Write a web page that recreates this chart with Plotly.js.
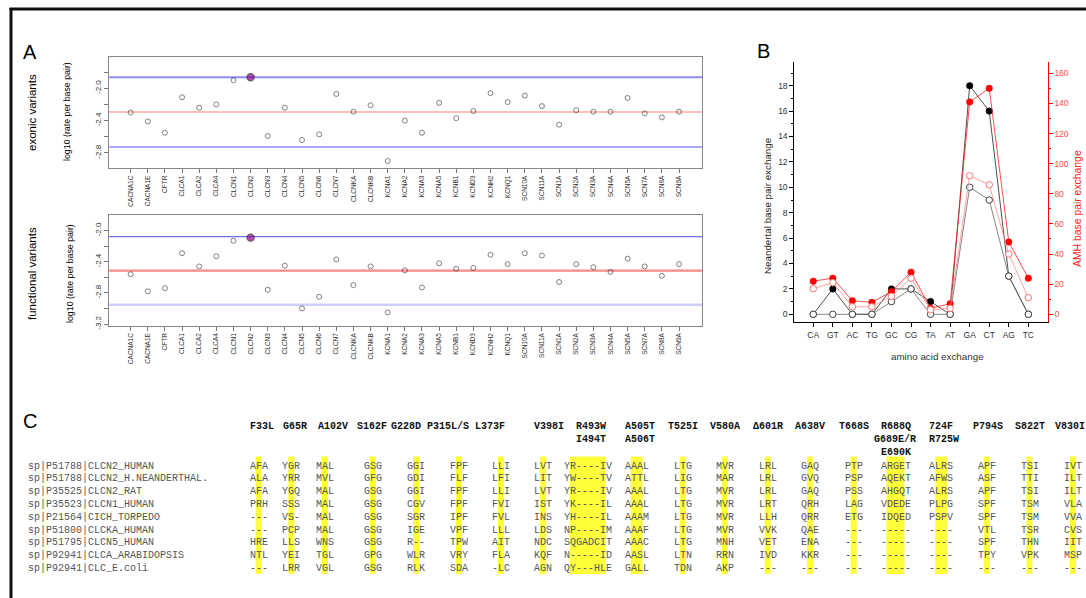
<!DOCTYPE html>
<html><head><meta charset="utf-8">
<script src="https://cdn.plot.ly/plotly-3.0.1.min.js"></script>
<style>html,body{margin:0;padding:0;background:#fff}#chart{width:1086px;height:598px}</style>
</head><body><div id="chart"></div>
<script>
// ---------------- Panel A data ----------------
const genes = ['CACNA1C','CACNA1E','CFTR','CLCA1','CLCA2','CLCA4','CLCN1','CLCN2','CLCN3','CLCN4','CLCN5','CLCN6','CLCN7','CLCNKA','CLCNKB','KCNA1','KCNA2','KCNA3','KCNA5','KCNB1','KCND3','KCNH2','KCNQ1','SCN10A','SCN11A','SCN1A','SCN2A','SCN3A','SCN4A','SCN5A','SCN7A','SCN8A','SCN9A'];
const exonicRate = [-2.30,-2.41,-2.55,-2.11,-2.24,-2.20,-1.90,-1.864,-2.59,-2.24,-2.64,-2.57,-2.07,-2.29,-2.21,-2.90,-2.40,-2.55,-2.18,-2.37,-2.28,-2.06,-2.17,-2.09,-2.22,-2.45,-2.27,-2.29,-2.29,-2.12,-2.31,-2.36,-2.29];
const functionalRate = [-2.56,-2.78,-2.74,-2.29,-2.46,-2.33,-2.13,-2.09,-2.76,-2.45,-3.00,-2.85,-2.37,-2.70,-2.46,-3.05,-2.51,-2.73,-2.42,-2.49,-2.48,-2.31,-2.43,-2.29,-2.32,-2.66,-2.43,-2.47,-2.53,-2.36,-2.46,-2.58,-2.43];
const highlightGene = 'CLCN2';
const exonicRefLines = [-1.864, -2.293, -2.726];
const functionalRefLines = [-2.077, -2.514, -2.952];
const exonicTicks = [-1.8,-2.0,-2.2,-2.4,-2.6,-2.8];
const exonicTickText = ['','-2.0','','-2.4','','-2.8'];
const functionalTicks = [-2.0,-2.2,-2.4,-2.6,-2.8,-3.0,-3.2];
const functionalTickText = ['-2.0','','-2.4','','-2.8','','-3.2'];

// ---------------- Panel B data ----------------
const exchanges = ['CA','GT','AC','TG','GC','CG','TA','AT','GA','CT','AG','TC'];
const neandertalFilled = [0,2,0,0,2,2,1,0,18,16,3,0];
const neandertalOpen   = [0,0,0,0,1,2,0,0,10,9,3,0];
const amhFilled = [22,24,9,8,15,28,4,7,141,150,48,24];
const amhOpen   = [17,21,5,5,12,24,3,4,92,86,40,11];

// ---------------- Panel C data ----------------
const mutationHeaders = [['F33L'],['G65R'],['A102V'],['S162F'],['G228D'],['P315L/S'],['L373F'],['V398I'],['R493W','I494T'],['A505T','A506T'],['T525I'],['V580A'],['\u0394601R'],['A638V'],['T668S'],['R688Q','G689E/R','E690K'],['724F','R725W'],['P794S'],['S822T'],['V830I']];
const seqNames = ['sp|P51788|CLCN2_HUMAN','sp|P51788|CLCN2_H.NEANDERTHAL.','sp|P35525|CLCN2_RAT','sp|P35523|CLCN1_HUMAN','sp|P21564|CICH_TORPEDO','sp|P51800|CLCKA_HUMAN','sp|P51795|CLCN5_HUMAN','sp|P92941|CLCA_ARABIDOPSIS','sp|P92941|CLC_E.coli'];
const alignment = [
 ['AFA','YGR','MAL','GSG','GGI','FPF','LLI','LVT','YR----IV','AAAL','LTG','MVR','LRL','GAQ','PTP','ARGET','ALRS','APF','TSI','IVT'],
 ['ALA','YRR','MVL','GFG','GDI','FLF','LFI','LIT','YW----TV','ATTL','LIG','MAR','LRL','GVQ','PSP','AQEKT','AFWS','ASF','TTI','ILT'],
 ['AFA','YGQ','MAL','GSG','GGI','FPF','LLI','LVT','YR----IV','AAAL','LTG','MVR','LRL','GAQ','PSS','AHGQT','ALRS','APF','TSI','ILT'],
 ['PRH','SSS','MAL','GSG','CGV','FPF','FVI','IST','YK----IL','AAAL','LTG','MVR','LRT','QRH','LAG','VDEDE','PLPG','SPF','TSM','VLA'],
 ['---','VS-','MAL','GSG','SGR','IPF','FVL','INS','YH----IL','AAAM','LTG','MVR','LLH','QRR','ETG','IDQED','PSPV','SPF','TSM','VVA'],
 ['---','PCP','MAL','GSG','IGE','VPF','LLL','LDS','NP----IM','AAAF','LTG','MVR','VVK','QAE','---','-----','----','VTL','TSR','CVS'],
 ['HRE','LLS','WNS','GSG','R--','TPW','AIT','NDC','SQGADCIT','AAAC','LTG','MNH','VET','ENA','---','-----','----','SPF','THN','IIT'],
 ['NTL','YEI','TGL','GPG','WLR','VRY','FLA','KQF','N-----ID','AASL','LTN','RRN','IVD','KKR','---','-----','----','TPY','VPK','MSP'],
 ['---','LRR','VGL','GSG','RLK','SDA','-LC','AGN','QY---HLE','GALL','TDN','AKP','---','---','---','-----','----','---','---','---']
];
const highlightSpans = [[1,1],[1,1],[1,1],[1,1],[1,1],[1,1],[1,1],[1,1],[1,6],[1,2],[1,1],[1,1],[1,1],[1,1],[1,1],[1,3],[1,2],[1,1],[1,1],[1,1]];

// ---------------- layout constants (pixels) ----------------
const W = 1086, H = 598;
const PX = v => v / W, PY = v => 1 - v / H;
const colX = [249.7,282.3,316,364,407,450,492,534.2,563.7,624.6,673.7,715.8,758.7,801.1,844.7,880.5,929.3,977.7,1020.5,1064];
const headX = [250.4,283.4,317.8,357.2,391,427,475.2,534,575.9,624.6,667.8,709.6,752.7,795.2,838.7,[880.5,874.3,880.5],929.3,972.8,1015.3,1055.3];
const headY = [426, 439, 452];
const nameX = 28, rowY0 = 466, rowGap = 12.8, charW = 6.0, textPad = 2;
const mono = 'Liberation Mono, Courier New, monospace';
const sans = 'Liberation Sans, Arial, sans-serif';

const traces = [];
// Panel A
const mcol = genes.map(g => g === highlightGene ? '#990099' : 'rgba(0,0,0,0)');
const msize = genes.map(g => g === highlightGene ? 7 : 5);
const mlw = genes.map(g => g === highlightGene ? 1.4 : 0.8);
traces.push({type:'scatter', mode:'markers', x:genes, y:exonicRate, xaxis:'x', yaxis:'y',
  marker:{symbol:'circle', size:msize, color:mcol, line:{color:'#222', width:mlw}}, showlegend:false, hoverinfo:'skip'});
traces.push({type:'scatter', mode:'markers', x:genes, y:functionalRate, xaxis:'x2', yaxis:'y2',
  marker:{symbol:'circle', size:msize, color:mcol, line:{color:'#222', width:mlw}}, showlegend:false, hoverinfo:'skip'});
// Panel B
traces.push({type:'scatter', mode:'lines+markers', x:exchanges, y:amhFilled, xaxis:'x3', yaxis:'y4',
  line:{color:'#ff2020', width:0.8}, marker:{size:6.5, color:'#ff0000', line:{color:'#ff0000', width:0.5}}, showlegend:false, hoverinfo:'skip'});
traces.push({type:'scatter', mode:'lines+markers', x:exchanges, y:amhOpen, xaxis:'x3', yaxis:'y4',
  line:{color:'#ff8a8a', width:0.8}, marker:{size:6.5, color:'#ffffff', line:{color:'#ff7070', width:1}}, showlegend:false, hoverinfo:'skip'});
traces.push({type:'scatter', mode:'lines+markers', x:exchanges, y:neandertalFilled, xaxis:'x3', yaxis:'y3',
  line:{color:'#222', width:0.8}, marker:{size:6.5, color:'#000', line:{color:'#000', width:0.5}}, showlegend:false, hoverinfo:'skip'});
traces.push({type:'scatter', mode:'lines+markers', x:exchanges, y:neandertalOpen, xaxis:'x3', yaxis:'y3',
  line:{color:'#666', width:0.8}, marker:{size:6.5, color:'#ffffff', line:{color:'#444', width:1}}, showlegend:false, hoverinfo:'skip'});
// Panel C anchor trace
traces.push({type:'scatter', mode:'markers', x:[], y:[], xaxis:'x5', yaxis:'y5', showlegend:false, hoverinfo:'skip'});

const shapes = [];
// frame
shapes.push({type:'line', xref:'paper', yref:'paper', x0:PX(9.5), x1:1, y0:PY(9), y1:PY(9), line:{color:'#111', width:3}});
shapes.push({type:'line', xref:'paper', yref:'paper', x0:PX(11), x1:PX(11), y0:PY(8), y1:0, line:{color:'#111', width:3}});
// reference lines
const exStyle = [{color:'#8c8cf5', width:2},{color:'#ffa8a8', width:1.5},{color:'#a8a8f8', width:2}];
const fnStyle = [{color:'#6f6fee', width:1.2},{color:'#ff8a8a', width:2.2},{color:'#cfcfff', width:2.5}];
exonicRefLines.forEach((v,i) => shapes.push({type:'line', xref:'x domain', yref:'y', x0:0, x1:1, y0:v, y1:v, line:exStyle[i], layer:'below'}));
functionalRefLines.forEach((v,i) => shapes.push({type:'line', xref:'x2 domain', yref:'y2', x0:0, x1:1, y0:v, y1:v, line:fnStyle[i], layer:'below'}));
// alignment highlights
const rowY = r => rowY0 + r * rowGap;
highlightSpans.forEach((s,c) => shapes.push({type:'rect', xref:'x5', yref:'y5',
  x0: colX[c] + s[0]*charW, x1: colX[c] + (s[1]+1)*charW,
  y0: rowY(0) - 9.5, y1: rowY(alignment.length-1) + 5.5,
  fillcolor:'#ffff3a', line:{width:0}, layer:'below'}));

const ann = [];
const lab = (t, x, y, size, opts) => Object.assign({text:t, xref:'paper', yref:'paper', x:PX(x), y:PY(y), showarrow:false, xanchor:'center', yanchor:'middle', font:{family:sans, size:size, color:'#000'}}, opts||{});
ann.push(lab('A', 30, 52, 20));
ann.push(lab('B', 763, 51, 20));
ann.push(lab('C', 30, 421, 20));
ann.push(lab('exonic variants', 32, 113, 11.5, {textangle:-90}));
ann.push(lab('log10 (rate per base pair)', 67, 112, 8.8, {textangle:-90}));
ann.push(lab('functional variants', 32, 274, 11.5, {textangle:-90}));
ann.push(lab('log10 (rate per base pair)', 70, 274, 8.8, {textangle:-90}));
ann.push(lab('Neandertal base pair exchange', 767, 206, 9.8, {textangle:-90, font:{family:sans, size:9.8, color:'#222'}}));
ann.push(lab('AMH base pair exchange', 1077, 209, 10.4, {textangle:-90, font:{family:sans, size:10.4, color:'#ff2020'}}));
ann.push(lab('amino acid exchange', 937, 356, 9.8, {font:{family:sans, size:9.8, color:'#333'}}));
// panel C text
const cellAnn = (t, x, y, bold) => ({text: bold ? '<b>'+t+'</b>' : t, xref:'x5', yref:'y5', x:x - textPad, y:y, showarrow:false,
  xanchor:'left', yanchor:'middle', font:{family:mono, size:10, color: bold ? '#111' : '#555'}});
mutationHeaders.forEach((lines,c) => lines.forEach((t,k) => {
  const hx = Array.isArray(headX[c]) ? headX[c][k] : headX[c];
  ann.push(cellAnn(t, hx, headY[k], true));
}));
seqNames.forEach((n,r) => ann.push(cellAnn(n, nameX, rowY(r), false)));
alignment.forEach((row,r) => row.forEach((t,c) => ann.push(cellAnn(t, colX[c], rowY(r), false))));

const axA = {type:'category', tickmode:'linear', tick0:0, dtick:1, tickangle:-90, tickfont:{family:sans, size:6.5, color:'#333'},
  ticks:'outside', ticklen:4, tickcolor:'#777', showline:true, mirror:true, linecolor:'#888', linewidth:1, showgrid:false, zeroline:false, fixedrange:true,
  domain:[PX(109.3), PX(702)], range:[-1.245, 33.34]};
const ayA = {tickangle:-90, tickfont:{family:sans, size:8, color:'#333'}, ticks:'outside', ticklen:4, tickcolor:'#777',
  showline:true, mirror:true, linecolor:'#888', linewidth:1, showgrid:false, zeroline:false, fixedrange:true, tickmode:'array'};

const layout = {
  width:W, height:H, margin:{l:0,r:0,t:0,b:0}, paper_bgcolor:'#fff', plot_bgcolor:'rgba(0,0,0,0)',
  showlegend:false, hovermode:false, font:{family:sans},
  xaxis: Object.assign({}, axA, {anchor:'y'}),
  yaxis: Object.assign({}, ayA, {anchor:'x', domain:[PY(168), PY(56.7)], range:[-2.986, -1.609], tickvals:exonicTicks, ticktext:exonicTickText}),
  xaxis2: Object.assign({}, axA, {anchor:'y2'}),
  yaxis2: Object.assign({}, ayA, {anchor:'x2', domain:[PY(325.5), PY(215)], range:[-3.219, -1.799], tickvals:functionalTicks, ticktext:functionalTickText}),
  xaxis3: {anchor:'y3', domain:[PX(794.3), PX(1047.7)], type:'category', range:[-0.97, 11.99], showline:true, linecolor:'#000', linewidth:1,
    ticks:'outside', ticklen:4, tickcolor:'#000', tickfont:{family:sans, size:8.5, color:'#333'}, showgrid:false, zeroline:false, fixedrange:true},
  yaxis3: {anchor:'x3', domain:[PY(322.3), PY(61.7)], range:[-0.63, 19.89], tick0:0, dtick:2, showline:true, linecolor:'#000', linewidth:1,
    ticks:'outside', ticklen:4, tickcolor:'#000', minor:{dtick:1, ticks:'outside', ticklen:2, tickcolor:'#000'},
    tickfont:{family:sans, size:8.5, color:'#333'}, showgrid:false, zeroline:false, fixedrange:true},
  yaxis4: {anchor:'x3', overlaying:'y3', side:'right', range:[-5.31, 167.7], tick0:0, dtick:20, showline:true, linecolor:'#ff0000', linewidth:1,
    ticks:'outside', ticklen:4, tickcolor:'#ff0000', minor:{dtick:10, ticks:'outside', ticklen:2, tickcolor:'#ff0000'},
    tickfont:{family:sans, size:8.5, color:'#ff4a4a'}, showgrid:false, zeroline:false, fixedrange:true},
  xaxis5: {anchor:'y5', domain:[0,1], range:[0,W], visible:false, fixedrange:true},
  yaxis5: {anchor:'x5', domain:[0,1], range:[H,0], visible:false, fixedrange:true},
  shapes: shapes,
  annotations: ann
};
Plotly.newPlot('chart', traces, layout, {staticPlot:true, displayModeBar:false});
</script></body></html>
